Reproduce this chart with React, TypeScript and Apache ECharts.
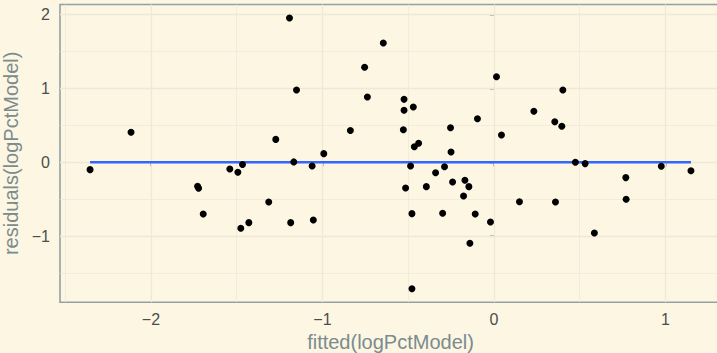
import React, { useEffect, useRef } from "react";
import * as echarts from "echarts";

// fitted(logPctModel) values
const fitted: number[] = [
  -2.355, -2.116, -1.728, -1.722, -1.695, -1.54, -1.493, -1.476, -1.466, -1.429,
  -1.313, -1.272, -1.192, -1.185, -1.167, -1.151, -1.06, -1.053, -0.992, -0.837,
  -0.754, -0.738, -0.645, -0.528, -0.524, -0.524, -0.515, -0.486, -0.478, -0.478,
  -0.47, -0.464, -0.439, -0.394, -0.34, -0.299, -0.288, -0.253, -0.25, -0.241,
  -0.177, -0.169, -0.146, -0.14, -0.109, -0.096, -0.02, 0.015, 0.044, 0.149,
  0.233, 0.355, 0.359, 0.396, 0.402, 0.475, 0.532, 0.586, 0.769, 0.771,
  0.976, 1.149,
];
// residuals(logPctModel) values
const residuals: number[] = [
  -0.1, 0.406, -0.325, -0.352, -0.7, -0.09, -0.136, -0.894, -0.03, -0.818,
  -0.538, 0.31, 1.955, -0.818, 0.005, 0.98, -0.05, -0.782, 0.117, 0.43,
  1.287, 0.885, 1.617, 0.442, 0.853, 0.705, -0.348, -0.05, -0.696, -1.713,
  0.749, 0.211, 0.257, -0.33, -0.141, -0.691, -0.06, 0.469, 0.14, -0.267,
  -0.457, -0.244, -0.33, -1.098, -0.7, 0.591, -0.809, 1.16, 0.37, -0.534,
  0.691, 0.55, -0.538, 0.488, 0.98, 0.0, -0.018, -0.958, -0.208, -0.502,
  -0.054, -0.114,
];

const xTickLabels: number[] = [-2, -1, 0, 1];
const yTickLabels: number[] = [-1, 0, 1, 2];
const xMinorGrid: number[] = [-2.5, -1.5, -0.5, 0.5];
const yMinorGrid: number[] = [-1.5, -0.5, 0.5, 1.5];

const BG = "#FDF6E3";
const GRID = "#EEE8D5";
const AXIS = "#93A1A1";
const TICKTXT = "#4d4d4d";
const TITLE = "#7a8c8e";
const FONT = "'Liberation Sans', Arial, Helvetica, sans-serif";

function fmt(v: number | string): string {
  const n = Number(v);
  return n < 0 ? "\u2212" + Math.abs(n) : String(n);
}

export default function App() {
  const ref = useRef<HTMLDivElement>(null);
  useEffect(() => {
    if (!ref.current) return;
    const chart = echarts.init(ref.current, null, { renderer: "svg" });
    const xLo = Math.min(...fitted);
    const xHi = Math.max(...fitted);
    const yLo = Math.min(...residuals);
    const yHi = Math.max(...residuals);
    const xPad = (xHi - xLo) * 0.05;
    const yPad = (yHi - yLo) * 0.05;
    const points = fitted.map((x, i) => [x, residuals[i]]);
    // residuals are orthogonal to fitted values, so the linear fit is y = 0
    const fitLine = [
      [xLo, 0],
      [xHi, 0],
    ];

    const gridLines: any[] = [];
    xTickLabels.forEach((v) =>
      gridLines.push({ xAxis: v, lineStyle: { color: GRID, width: 1.3, type: "solid" } })
    );
    xMinorGrid.forEach((v) =>
      gridLines.push({ xAxis: v, lineStyle: { color: GRID, width: 0.7, type: "solid" } })
    );
    yTickLabels.forEach((v) =>
      gridLines.push({ yAxis: v, lineStyle: { color: GRID, width: 1.3, type: "solid" } })
    );
    yMinorGrid.forEach((v) =>
      gridLines.push({ yAxis: v, lineStyle: { color: GRID, width: 0.7, type: "solid" } })
    );

    chart.setOption({
      animation: false,
      backgroundColor: BG,
      textStyle: { fontFamily: FONT },
      grid: {
        left: 60,
        top: 4.5,
        right: -4,
        bottom: 50.8,
        show: true,
        backgroundColor: BG,
        borderColor: AXIS,
        borderWidth: 1.6,
        containLabel: false,
        outerBoundsMode: "none",
      },
      xAxis: {
        type: "value",
        min: xLo - xPad,
        max: xHi + xPad,
        name: "fitted(logPctModel)",
        nameLocation: "middle",
        nameGap: 29,
        nameTextStyle: { color: TITLE, fontSize: 20, fontFamily: FONT },
        axisLine: { show: false },
        splitLine: { show: false },
        axisTick: {
          show: true,
          customValues: xTickLabels,
          length: 4,
          lineStyle: { color: AXIS, width: 1.5 },
        },
        axisLabel: {
          customValues: xTickLabels,
          formatter: fmt,
          color: TICKTXT,
          fontSize: 16,
          margin: 9,
          fontFamily: FONT,
        },
      },
      yAxis: {
        type: "value",
        min: yLo - yPad,
        max: yHi + yPad,
        name: "residuals(logPctModel)",
        nameLocation: "middle",
        nameGap: 36,
        nameRotate: 90,
        nameTextStyle: { color: TITLE, fontSize: 20, fontFamily: FONT },
        axisLine: { show: false },
        splitLine: { show: false },
        axisTick: {
          show: true,
          customValues: yTickLabels,
          length: 4,
          lineStyle: { color: AXIS, width: 1.5 },
        },
        axisLabel: {
          customValues: yTickLabels,
          formatter: fmt,
          color: TICKTXT,
          fontSize: 16,
          margin: 10,
          fontFamily: FONT,
        },
      },
      series: [
        {
          type: "scatter",
          data: [],
          silent: true,
          z: 1,
          markLine: {
            silent: true,
            z: 1,
            symbol: ["none", "none"],
            label: { show: false },
            emphasis: { disabled: true },
            animation: false,
            data: gridLines,
          },
        },
        {
          type: "line",
          data: fitLine,
          showSymbol: false,
          silent: true,
          z: 3,
          lineStyle: { color: "#3366FF", width: 2.4 },
        },
        {
          type: "scatter",
          data: points,
          symbol: "circle",
          symbolSize: 7,
          z: 4,
          itemStyle: { color: "#000000", opacity: 1 },
        },
      ],
    });
    return () => chart.dispose();
  }, []);
  return (
    <div
      ref={ref}
      style={{ position: "fixed", left: 0, top: 0, width: 717, height: 353, background: BG }}
    />
  );
}
